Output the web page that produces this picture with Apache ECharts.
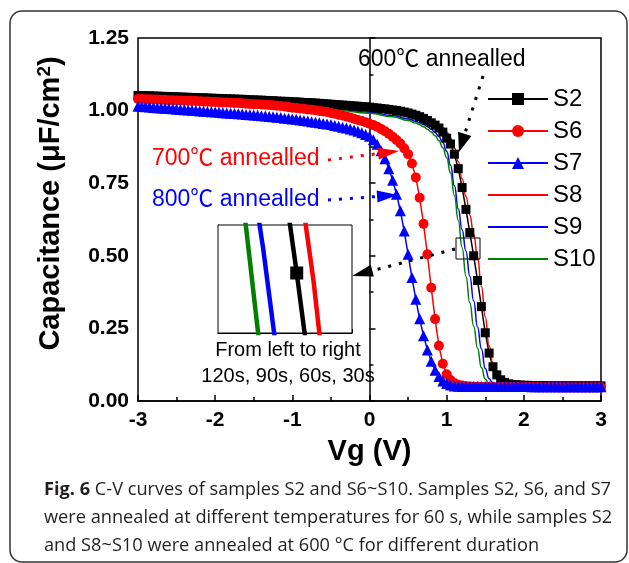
<!DOCTYPE html>
<html>
<head>
<meta charset="utf-8">
<title>C-V curves</title>
<script src="https://cdn.jsdelivr.net/npm/echarts@6/dist/echarts.min.js"></script>
<style>
html, body { margin: 0; padding: 0; background: #fff; }
#main { width: 629px; height: 563px; }
</style>
</head>
<body>
<div id="main"></div>
<script>
// gate voltage sweep used for S2, S6, S7 (V)
var vg = [
  -3.00, -2.95, -2.90, -2.85, -2.80, -2.75, -2.70, -2.65, -2.60, -2.55,
  -2.50, -2.45, -2.40, -2.35, -2.30, -2.25, -2.20, -2.15, -2.10, -2.05,
  -2.00, -1.95, -1.90, -1.85, -1.80, -1.75, -1.70, -1.65, -1.60, -1.55,
  -1.50, -1.45, -1.40, -1.35, -1.30, -1.25, -1.20, -1.15, -1.10, -1.05,
  -1.00, -0.95, -0.90, -0.85, -0.80, -0.75, -0.70, -0.65, -0.60, -0.55,
  -0.50, -0.45, -0.40, -0.35, -0.30, -0.25, -0.20, -0.15, -0.10, -0.05,
  0.00, 0.05, 0.10, 0.15, 0.20, 0.25, 0.30, 0.35, 0.40, 0.45,
  0.50, 0.55, 0.60, 0.65, 0.70, 0.75, 0.80, 0.85, 0.90, 0.95,
  1.00, 1.05, 1.10, 1.15, 1.20, 1.25, 1.30, 1.35, 1.40, 1.45,
  1.50, 1.55, 1.60, 1.65, 1.70, 1.75, 1.80, 1.85, 1.90, 1.95,
  2.00, 2.05, 2.10, 2.15, 2.20, 2.25, 2.30, 2.35, 2.40, 2.45,
  2.50, 2.55, 2.60, 2.65, 2.70, 2.75, 2.80, 2.85, 2.90, 2.95,
  3.00
];

// capacitance (uF/cm2), 600 C / 60 s
var s2 = [
  1.052, 1.052, 1.051, 1.051, 1.050, 1.050, 1.049, 1.049, 1.048, 1.048,
  1.047, 1.047, 1.046, 1.046, 1.045, 1.045, 1.044, 1.044, 1.043, 1.043,
  1.042, 1.042, 1.041, 1.041, 1.040, 1.040, 1.039, 1.039, 1.038, 1.037,
  1.037, 1.036, 1.036, 1.035, 1.034, 1.034, 1.033, 1.032, 1.032, 1.031,
  1.030, 1.030, 1.029, 1.028, 1.027, 1.027, 1.026, 1.025, 1.024, 1.023,
  1.022, 1.021, 1.020, 1.019, 1.018, 1.017, 1.016, 1.015, 1.014, 1.013,
  1.012, 1.010, 1.009, 1.007, 1.006, 1.004, 1.002, 1.000, 0.998, 0.995,
  0.992, 0.988, 0.984, 0.979, 0.973, 0.966, 0.958, 0.950, 0.940, 0.926,
  0.905, 0.885, 0.850, 0.800, 0.735, 0.660, 0.580, 0.500, 0.415, 0.325,
  0.235, 0.165, 0.118, 0.090, 0.073, 0.064, 0.059, 0.057, 0.056, 0.055,
  0.054, 0.054, 0.053, 0.053, 0.053, 0.053, 0.052, 0.052, 0.052, 0.052,
  0.052, 0.052, 0.052, 0.052, 0.052, 0.052, 0.052, 0.052, 0.052, 0.052,
  0.052
];

// 700 C / 60 s
var s6 = [
  1.040, 1.040, 1.039, 1.039, 1.038, 1.038, 1.037, 1.037, 1.036, 1.036,
  1.035, 1.035, 1.034, 1.034, 1.033, 1.033, 1.032, 1.031, 1.031, 1.030,
  1.030, 1.029, 1.028, 1.028, 1.027, 1.026, 1.026, 1.025, 1.024, 1.023,
  1.022, 1.022, 1.021, 1.020, 1.019, 1.018, 1.017, 1.016, 1.014, 1.012,
  1.010, 1.009, 1.007, 1.006, 1.004, 1.003, 1.001, 0.999, 0.997, 0.995,
  0.992, 0.989, 0.986, 0.983, 0.980, 0.976, 0.972, 0.968, 0.964, 0.960,
  0.955, 0.950, 0.944, 0.937, 0.929, 0.920, 0.910, 0.899, 0.887, 0.870,
  0.850, 0.818, 0.770, 0.700, 0.610, 0.505, 0.390, 0.282, 0.190, 0.128,
  0.092, 0.072, 0.062, 0.056, 0.053, 0.051, 0.050, 0.049, 0.049, 0.048,
  0.048, 0.048, 0.048, 0.048, 0.048, 0.048, 0.048, 0.048, 0.048, 0.048,
  0.048, 0.048, 0.048, 0.048, 0.047, 0.047, 0.047, 0.047, 0.047, 0.047,
  0.047, 0.047, 0.047, 0.047, 0.047, 0.047, 0.047, 0.047, 0.047, 0.047,
  0.047
];

// 800 C / 60 s
var s7 = [
  1.015, 1.014, 1.013, 1.012, 1.011, 1.010, 1.009, 1.008, 1.007, 1.006,
  1.005, 1.004, 1.003, 1.002, 1.001, 1.000, 0.999, 0.998, 0.997, 0.996,
  0.995, 0.994, 0.993, 0.992, 0.991, 0.990, 0.989, 0.988, 0.987, 0.986,
  0.985, 0.984, 0.982, 0.981, 0.980, 0.979, 0.977, 0.976, 0.974, 0.973,
  0.971, 0.970, 0.968, 0.966, 0.964, 0.962, 0.960, 0.958, 0.956, 0.954,
  0.952, 0.949, 0.946, 0.943, 0.940, 0.937, 0.933, 0.929, 0.924, 0.918,
  0.912, 0.900, 0.884, 0.862, 0.834, 0.800, 0.760, 0.712, 0.655, 0.585,
  0.505, 0.425, 0.350, 0.283, 0.225, 0.176, 0.137, 0.106, 0.084, 0.069,
  0.060, 0.055, 0.052, 0.051, 0.050, 0.050, 0.050, 0.050, 0.050, 0.050,
  0.050, 0.050, 0.050, 0.050, 0.050, 0.050, 0.050, 0.050, 0.050, 0.050,
  0.050, 0.050, 0.049, 0.049, 0.049, 0.049, 0.049, 0.049, 0.049, 0.049,
  0.049, 0.049, 0.049, 0.049, 0.049, 0.049, 0.049, 0.049, 0.049, 0.049,
  0.049
];

// voltages for the plain line curves S8, S9, S10
var vgLine = [-3, -2.5, -2, -1.5, -1, -0.5, 0, 0.3, 0.5, 0.6,
  0.65, 0.7, 0.75, 0.8, 0.85, 0.9, 0.95, 1.0, 1.05, 1.1,
  1.15, 1.2, 1.25, 1.3, 1.35, 1.4, 1.45, 1.5, 1.55, 1.6,
  1.65, 1.7, 1.75, 1.8, 1.85, 1.9, 2.0, 2.2, 2.5, 3.0];

// 600 C / 30 s
var s8 = [1.047, 1.043, 1.038, 1.033, 1.027, 1.018, 1.008, 0.998, 0.988, 0.982,
  0.978, 0.974, 0.970, 0.965, 0.959, 0.951, 0.940, 0.926, 0.906, 0.872,
  0.825, 0.765, 0.705, 0.640, 0.575, 0.495, 0.395, 0.290, 0.190, 0.128,
  0.093, 0.070, 0.055, 0.045, 0.040, 0.037, 0.035, 0.034, 0.033, 0.033];
// 600 C / 90 s
var s9 = [1.040, 1.035, 1.029, 1.023, 1.016, 1.006, 0.994, 0.983, 0.971, 0.963,
  0.958, 0.952, 0.945, 0.936, 0.925, 0.910, 0.890, 0.860, 0.812, 0.742,
  0.662, 0.590, 0.516, 0.430, 0.345, 0.255, 0.180, 0.112, 0.077, 0.061,
  0.053, 0.049, 0.047, 0.046, 0.046, 0.045, 0.045, 0.045, 0.045, 0.045];
// 600 C / 120 s
var s10 = [1.042, 1.036, 1.030, 1.023, 1.015, 1.004, 0.991, 0.979, 0.966, 0.957,
  0.951, 0.944, 0.936, 0.926, 0.913, 0.896, 0.872, 0.838, 0.785, 0.708,
  0.622, 0.528, 0.430, 0.338, 0.258, 0.182, 0.115, 0.076, 0.056, 0.047,
  0.043, 0.042, 0.041, 0.041, 0.040, 0.040, 0.040, 0.040, 0.040, 0.040];

var names = ['S2', 'S6', 'S7', 'S8', 'S9', 'S10'];

var FONT = "'Liberation Sans', Arial, 'Noto Sans CJK SC', sans-serif";
var CAP_FONT = "'Open Sans', 'Noto Sans', sans-serif";

function pairs(xs, ys) {
    return xs.map(function(x, i) { return [x, ys[i]]; });
}

// dotted pointer ending in a filled head
function arrow(x1, y1, x2, y2, color, head, half) {
    var dx = x2 - x1, dy = y2 - y1;
    var len = Math.sqrt(dx * dx + dy * dy);
    var ux = dx / len, uy = dy / len;
    var bx = x2 - ux * head, by = y2 - uy * head;
    return [{
        type: 'line', z: 50,
        shape: { x1: x1, y1: y1, x2: bx, y2: by },
        style: { stroke: color, lineWidth: 3, lineDash: [3, 8] }
    }, {
        type: 'polygon', z: 50,
        shape: { points: [[x2, y2], [bx - uy * half, by + ux * half], [bx + uy * half, by - ux * half]] },
        style: { fill: color }
    }];
}

function label(x, y, text, color, size, family, weight) {
    return {
        type: 'text', z: 50, x: x, y: y,
        style: {
            text: text, fill: color, fontSize: size, fontFamily: family || FONT,
            fontWeight: weight || 'normal', align: 'left', verticalAlign: 'middle'
        }
    };
}

var myChart = echarts.init(document.getElementById('main'));

var tickFont = { fontSize: 21, fontWeight: 'bold', fontFamily: FONT, color: '#000' };
var CAP = 18.2;

var graphics = [
    {
        type: 'rect', z: 0,
        shape: { x: 10, y: 11, width: 617, height: 551, r: 12 },
        style: { fill: 'none', stroke: '#333', lineWidth: 1.5 }
    },
    // box around the zoomed region
    {
        type: 'rect', z: 50,
        shape: { x: 456, y: 238, width: 24, height: 21 },
        style: { fill: 'none', stroke: '#000', lineWidth: 1 }
    },
    label(358, 60, '600℃ annealled', '#000', 23),
    label(152, 159, '700℃ annealled', '#ff0000', 23),
    label(152, 200, '800℃ annealled', '#0000ff', 23),
    {
        type: 'text', z: 50, x: 288, y: 350,
        style: { text: 'From left to right', fill: '#000', fontSize: 20, fontFamily: FONT, align: 'center', verticalAlign: 'middle' }
    },
    {
        type: 'text', z: 50, x: 288, y: 376,
        style: { text: '120s, 90s, 60s, 30s', fill: '#000', fontSize: 20, fontFamily: FONT, align: 'center', verticalAlign: 'middle' }
    },
    {
        type: 'text', z: 50, x: 44, y: 490,
        style: {
            text: '{b|Fig. 6} C-V curves of samples S2 and S6~S10. Samples S2, S6, and S7',
            fill: '#231f20', fontSize: CAP, fontFamily: CAP_FONT, verticalAlign: 'middle',
            rich: { b: { fontWeight: 'bold', fontSize: CAP, fontFamily: CAP_FONT, fill: '#231f20' } }
        }
    },
    label(44, 518, 'were annealed at different temperatures for 60 s, while samples S2', '#231f20', CAP, CAP_FONT),
    label(44, 546, 'and S8~S10 were annealed at 600 °C for different duration', '#231f20', CAP, CAP_FONT)
].concat(
    arrow(483, 76, 459, 152, '#000', 19, 7),
    arrow(328, 160, 399, 151, '#ff0000', 21, 6),
    arrow(328, 200, 398, 195, '#0000ff', 21, 6),
    arrow(455, 249, 352, 276, '#000', 21, 6)
);

var hideMark = { opacity: 0 };

var option = {
    animation: false,
    backgroundColor: '#fff',
    grid: [{
        left: 138, right: 28, top: 38, bottom: 162,
        show: true, borderColor: '#000', borderWidth: 1.5
    }, {
        left: 218, top: 225, width: 134, height: 108,
        show: true, borderColor: '#000', borderWidth: 1, backgroundColor: '#fff', z: 10
    }],
    legend: {
        data: [
            { name: 'S2' }, { name: 'S6' }, { name: 'S7' },
            { name: 'S8', itemStyle: hideMark },
            { name: 'S9', itemStyle: hideMark },
            { name: 'S10', itemStyle: hideMark }
        ],
        orient: 'vertical',
        left: 487, top: 87, padding: 0,
        itemWidth: 60, itemHeight: 15, itemGap: 8,
        selectedMode: false,
        textStyle: { fontSize: 24, fontFamily: FONT, color: '#000', lineHeight: 24 }
    },
    xAxis: [{
        type: 'value', gridIndex: 0,
        min: -3, max: 3, interval: 1,
        name: 'Vg (V)', nameLocation: 'middle', nameGap: 36,
        nameTextStyle: { fontSize: 29, fontWeight: 'bold', fontFamily: FONT, color: '#000' },
        axisLine: { lineStyle: { color: '#000', width: 1.5 } },
        axisTick: { inside: true, length: 6, lineStyle: { width: 1.5 } },
        minorTick: { show: true, splitNumber: 2, length: 4, lineStyle: { color: '#000', width: 1.5 } },
        splitLine: { show: false },
        axisLabel: Object.assign({ margin: 9 }, tickFont)
    }, {
        type: 'value', gridIndex: 1,
        min: 1.115, max: 1.515, splitNumber: 10,
        axisLine: { lineStyle: { color: '#000', width: 1 } },
        axisTick: { inside: true, length: 4 },
        splitLine: { show: false },
        axisLabel: { show: false }
    }],
    yAxis: [{
        type: 'value', gridIndex: 0,
        min: 0, max: 1.25, interval: 0.25,
        name: '{a|Capacitance (μF/cm}{s|2}{a|)}',
        nameLocation: 'middle', nameGap: 70, nameRotate: 90,
        nameTextStyle: {
            fontSize: 29, fontWeight: 'bold', fontFamily: FONT, color: '#000',
            padding: [0, 0, 0, 32],
            rich: {
                a: { fontSize: 29, fontWeight: 'bold', fontFamily: FONT, color: '#000' },
                s: { fontSize: 19, fontWeight: 'bold', fontFamily: FONT, color: '#000', padding: [0, 0, 14, 0] }
            }
        },
        axisLine: { lineStyle: { color: '#000', width: 1.5 } },
        axisTick: { inside: true, length: 6, lineStyle: { width: 1.5 } },
        minorTick: { show: true, splitNumber: 2, length: 4, lineStyle: { color: '#000', width: 1.5 } },
        splitLine: { show: false },
        axisLabel: Object.assign({
            margin: 9,
            formatter: function(v) { return v.toFixed(2); }
        }, tickFont)
    }, {
        type: 'value', gridIndex: 1,
        min: 0.46, max: 0.532, splitNumber: 9,
        axisLine: { lineStyle: { color: '#000', width: 1 } },
        axisTick: { inside: true, length: 4 },
        splitLine: { show: false },
        axisLabel: { show: false }
    }],
    series: [{
        name: 'S2', type: 'line', data: pairs(vg, s2),
        symbol: 'rect', symbolSize: 9, showAllSymbol: true,
        lineStyle: { color: '#000', width: 1.5 }, itemStyle: { color: '#000' }
    }, {
        name: 'S6', type: 'line', data: pairs(vg, s6),
        symbol: 'circle', symbolSize: 10, showAllSymbol: true,
        lineStyle: { color: '#ff0000', width: 1.5 }, itemStyle: { color: '#ff0000' }
    }, {
        name: 'S7', type: 'line', data: pairs(vg, s7),
        symbol: 'triangle', symbolSize: 11, showAllSymbol: true,
        lineStyle: { color: '#0000ff', width: 1.5 }, itemStyle: { color: '#0000ff' }
    }, {
        name: 'S8', type: 'line', data: pairs(vgLine, s8),
        symbol: 'none', smooth: true, smoothMonotone: 'x',
        lineStyle: { color: '#ff0000', width: 1.5 }, itemStyle: { color: '#ff0000' }
    }, {
        name: 'S9', type: 'line', data: pairs(vgLine, s9),
        symbol: 'none', smooth: true, smoothMonotone: 'x',
        lineStyle: { color: '#0000ff', width: 1.5 }, itemStyle: { color: '#0000ff' }
    }, {
        name: 'S10', type: 'line', data: pairs(vgLine, s10),
        symbol: 'none', smooth: true, smoothMonotone: 'x',
        lineStyle: { color: '#008000', width: 1.5 }, itemStyle: { color: '#008000' }
    },
    // inset: zoom of the boxed region
    {
        name: 'S10', type: 'line', xAxisIndex: 1, yAxisIndex: 1, z: 12,
        data: pairs(vgLine, s10), symbol: 'none',
        lineStyle: { color: '#008000', width: 4.5 }
    }, {
        name: 'S9', type: 'line', xAxisIndex: 1, yAxisIndex: 1, z: 12,
        data: pairs(vgLine, s9), symbol: 'none',
        lineStyle: { color: '#0000ff', width: 4.5 }
    }, {
        name: 'S2', type: 'line', xAxisIndex: 1, yAxisIndex: 1, z: 12,
        data: pairs(vg, s2), symbol: 'rect', symbolSize: 13, showAllSymbol: true,
        lineStyle: { color: '#000', width: 4.5 }, itemStyle: { color: '#000' }
    }, {
        name: 'S8', type: 'line', xAxisIndex: 1, yAxisIndex: 1, z: 12,
        data: pairs(vgLine, s8), symbol: 'none',
        lineStyle: { color: '#ff0000', width: 4.5 }
    }],
    graphic: graphics
};

myChart.setOption(option);
</script>
</body>
</html>
